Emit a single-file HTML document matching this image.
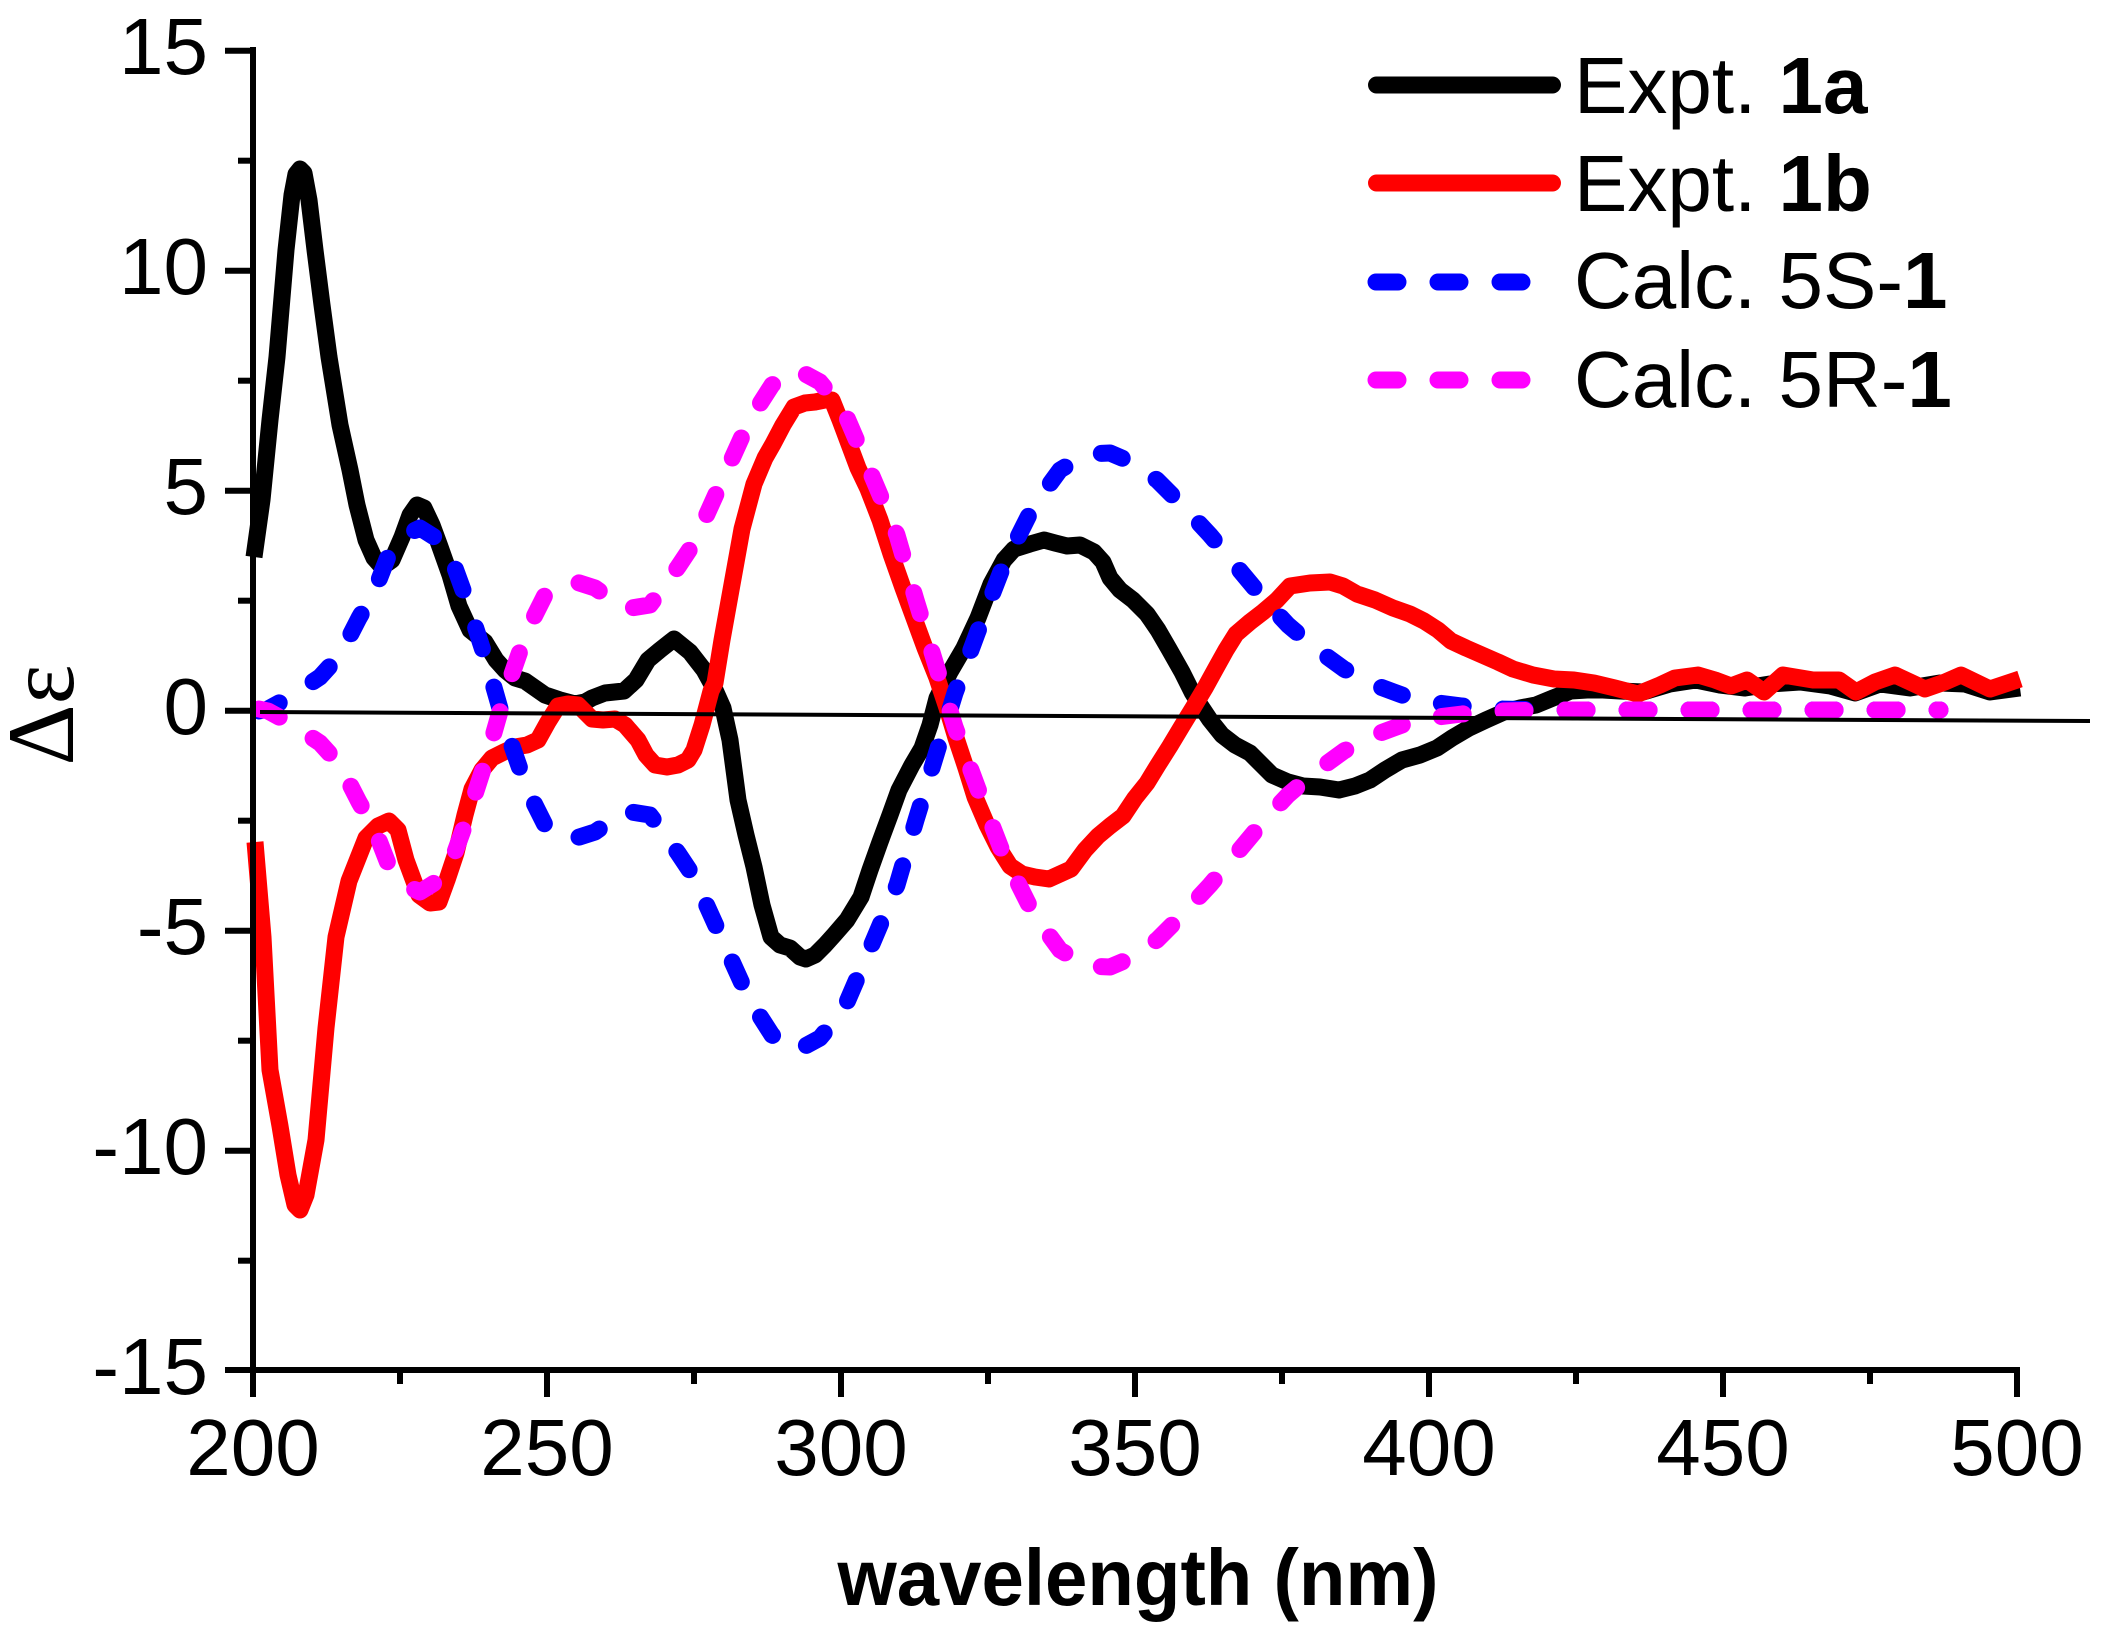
<!DOCTYPE html>
<html><head><meta charset="utf-8"><style>
html,body{margin:0;padding:0;background:#fff;}
svg{display:block;}
</style></head><body>
<svg width="2114" height="1640" viewBox="0 0 2114 1640" xmlns="http://www.w3.org/2000/svg" font-family="'Liberation Sans', Arial, sans-serif">
<rect width="2114" height="1640" fill="#fff"/>

<!-- Series -->
<polyline fill="none" stroke="#000" stroke-width="17" stroke-linejoin="round" stroke-linecap="butt" points="
254,557 262,500 270,420 277,357 286,250 292,195 296,174 300,169 304,173 309,200 315,250 322,305 329,357 340,425 350,470 357,505 366,540 374,558 382,567 392,560 402,537 410,515 417,505 424,508 432,525 439,544 450,575 459,606 470,630 485,642 496,660 505,670 515,678 525,681 535,688 545,695 560,700 575,704 585,702 592,698 605,693 624,691 636,680 648,660 660,650 674,639 690,652 704,670 715,690 723,708 730,740 738,800 746,835 754,867 762,905 771,937 780,945 790,948 800,957 806,959 815,955 825,945 834,935 847,920 861,897 870,870 880,842 890,815 899,790 912,765 922,748 930,725 937,698 950,672 964,648 978,618 991,584 1004,560 1014,549 1030,544 1044,540 1055,543 1067,546 1080,545 1094,552 1103,562 1110,578 1120,590 1133,600 1147,614 1158,630 1169,649 1182,672 1192,692 1200,705 1210,720 1222,735 1235,745 1250,753 1262,765 1272,775 1288,782 1303,786 1320,787 1339,790 1355,786 1370,780 1385,770 1402,760 1420,755 1437,748 1452,738 1469,728 1486,720 1504,712 1520,708 1536,705 1553,698 1571,691 1587,690 1603,690 1620,691 1643,692 1670,684 1696,680 1720,685 1745,688 1770,684 1800,682 1830,686 1855,693 1880,684 1910,688 1940,683 1965,684 1990,692 2020,688"/>

<polyline fill="none" stroke="#ff0000" stroke-width="17" stroke-linejoin="round" stroke-linecap="butt" points="
255,842 263,937 270,1070 280,1126 288,1175 295,1205 300,1210 306,1195 316,1140 326,1028 336,937 349,881 366,838 378,826 389,821 398,830 406,860 419,895 430,903 439,902 447,880 456,853 465,815 472,789 482,770 492,758 504,752 515,747 527,745 538,740 548,722 558,706 568,704 578,705 585,712 592,719 603,720 615,719 625,725 638,740 646,755 655,765 667,767 678,765 688,760 694,750 702,725 711,691 715,683 722,640 731,590 742,529 754,484 765,458 773,444 783,425 794,407 805,403 815,402 825,400 832,400 840,420 849,444 858,468 868,489 880,520 891,554 903,588 914,618 925,648 937,678 947,708 956,738 966,768 975,797 987,825 998,847 1010,866 1022,874 1035,877 1049,879 1060,874 1071,869 1085,850 1098,836 1110,826 1123,816 1135,798 1147,783 1158,765 1170,746 1182,726 1193,708 1205,688 1216,668 1226,650 1236,634 1250,622 1263,612 1277,600 1290,586 1310,583 1330,582 1343,586 1357,594 1375,600 1393,608 1410,614 1424,621 1438,630 1451,641 1466,648 1482,655 1498,662 1513,669 1533,675 1554,679 1574,680 1594,683 1615,688 1638,694 1660,685 1675,678 1698,675 1715,680 1731,686 1747,680 1764,692 1783,675 1813,680 1839,680 1856,692 1875,682 1895,675 1925,689 1945,682 1961,675 1990,689 2005,684 2020,679"/>

<polyline fill="none" stroke="#0000ff" stroke-width="17" stroke-linejoin="round" stroke-linecap="round" stroke-dasharray="22 40" points="
259,711 268,709 290,697 320,677 340,655 359,618 375,590 389,554 405,535 420,528 439,540 455,568 467,601 487,663 505,726 527,789 545,825 570,840 595,832 625,811 650,815 678,853 694,877 721,937 749,999 772,1035 796,1051 820,1038 844,1009 872,944 897,885 916,820 935,758 955,693 978,631 1002,569 1033,507 1060,470 1087,454 1110,453 1131,462 1157,480 1184,507 1210,535 1237,567 1262,597 1288,625 1315,648 1344,669 1372,684 1402,695 1430,702 1462,706 1500,709 1550,710 1600,710 1700,710 1800,710 1940,710"/>

<polyline fill="none" stroke="#ff00ff" stroke-width="17" stroke-linejoin="round" stroke-linecap="round" stroke-dasharray="22 40" points="
259,709 268,711 290,723 320,743 340,765 359,802 375,830 389,866 405,885 420,892 439,880 455,852 467,819 487,757 505,694 527,631 545,595 570,580 595,588 625,609 650,605 678,567 694,543 721,483 749,421 772,385 796,369 820,382 844,411 872,476 897,535 916,600 935,662 955,727 978,789 1002,851 1033,913 1060,950 1087,966 1110,967 1131,958 1157,940 1184,913 1210,885 1237,853 1262,823 1288,795 1315,772 1344,751 1372,736 1402,725 1430,718 1462,714 1500,711 1550,710 1600,710 1700,710 1800,710 1940,710"/>

<!-- Zero line -->
<line x1="260" y1="712" x2="2090" y2="721" stroke="#000" stroke-width="4"/>

<!-- Axes -->
<g stroke="#000" stroke-width="6" fill="none">
<line x1="253" y1="47" x2="253" y2="1373"/>
<line x1="250" y1="1370" x2="2020" y2="1370"/>
<!-- y major ticks -->
<line x1="225" y1="50.7" x2="253" y2="50.7"/>
<line x1="225" y1="270.7" x2="253" y2="270.7"/>
<line x1="225" y1="490.7" x2="253" y2="490.7"/>
<line x1="225" y1="710.7" x2="253" y2="710.7"/>
<line x1="225" y1="930.7" x2="253" y2="930.7"/>
<line x1="225" y1="1150.7" x2="253" y2="1150.7"/>
<line x1="225" y1="1370" x2="253" y2="1370"/>
<!-- y minor ticks -->
<line x1="238" y1="160.7" x2="253" y2="160.7"/>
<line x1="238" y1="380.7" x2="253" y2="380.7"/>
<line x1="238" y1="600.7" x2="253" y2="600.7"/>
<line x1="238" y1="820.7" x2="253" y2="820.7"/>
<line x1="238" y1="1040.7" x2="253" y2="1040.7"/>
<line x1="238" y1="1260.7" x2="253" y2="1260.7"/>
<!-- x major ticks -->
<line x1="253" y1="1370" x2="253" y2="1397"/>
<line x1="547" y1="1370" x2="547" y2="1397"/>
<line x1="841" y1="1370" x2="841" y2="1397"/>
<line x1="1135" y1="1370" x2="1135" y2="1397"/>
<line x1="1429" y1="1370" x2="1429" y2="1397"/>
<line x1="1723" y1="1370" x2="1723" y2="1397"/>
<line x1="2017" y1="1370" x2="2017" y2="1397"/>
<!-- x minor ticks -->
<line x1="400" y1="1370" x2="400" y2="1384"/>
<line x1="694" y1="1370" x2="694" y2="1384"/>
<line x1="988" y1="1370" x2="988" y2="1384"/>
<line x1="1282" y1="1370" x2="1282" y2="1384"/>
<line x1="1576" y1="1370" x2="1576" y2="1384"/>
<line x1="1870" y1="1370" x2="1870" y2="1384"/>
</g>

<!-- Y tick labels -->
<g font-size="80" fill="#000" text-anchor="end">
<text x="208" y="74">15</text>
<text x="208" y="294">10</text>
<text x="208" y="514">5</text>
<text x="208" y="734">0</text>
<text x="208" y="954">-5</text>
<text x="208" y="1174">-10</text>
<text x="208" y="1394">-15</text>
</g>

<!-- X tick labels -->
<g font-size="80" fill="#000" text-anchor="middle">
<text x="253" y="1475">200</text>
<text x="547" y="1475">250</text>
<text x="841" y="1475">300</text>
<text x="1135" y="1475">350</text>
<text x="1429" y="1475">400</text>
<text x="1723" y="1475">450</text>
<text x="2017" y="1475">500</text>
</g>

<!-- Axis titles -->
<text x="1138" y="1605" font-size="80" font-weight="bold" text-anchor="middle" textLength="601" lengthAdjust="spacingAndGlyphs">wavelength (nm)</text>
<text transform="translate(73,715) rotate(-90)" font-family="'Liberation Serif', 'Times New Roman', serif" font-size="95" text-anchor="middle">Δε</text>

<!-- Legend -->
<g stroke-width="17" stroke-linecap="round" fill="none">
<line x1="1376.5" y1="85" x2="1552.5" y2="85" stroke="#000"/>
<line x1="1376.5" y1="183" x2="1552.5" y2="183" stroke="#ff0000"/>
<line x1="1376" y1="282" x2="1530" y2="282" stroke="#0000ff" stroke-dasharray="22 40"/>
<line x1="1376" y1="380" x2="1530" y2="380" stroke="#ff00ff" stroke-dasharray="22 40"/>
</g>
<g font-size="80" fill="#000">
<text x="1574" y="113">Expt. <tspan font-weight="bold">1a</tspan></text>
<text x="1574" y="211">Expt. <tspan font-weight="bold">1b</tspan></text>
<text x="1574" y="308">Calc. 5S-<tspan font-weight="bold">1</tspan></text>
<text x="1574" y="407">Calc. 5R-<tspan font-weight="bold">1</tspan></text>
</g>
</svg>
</body></html>
